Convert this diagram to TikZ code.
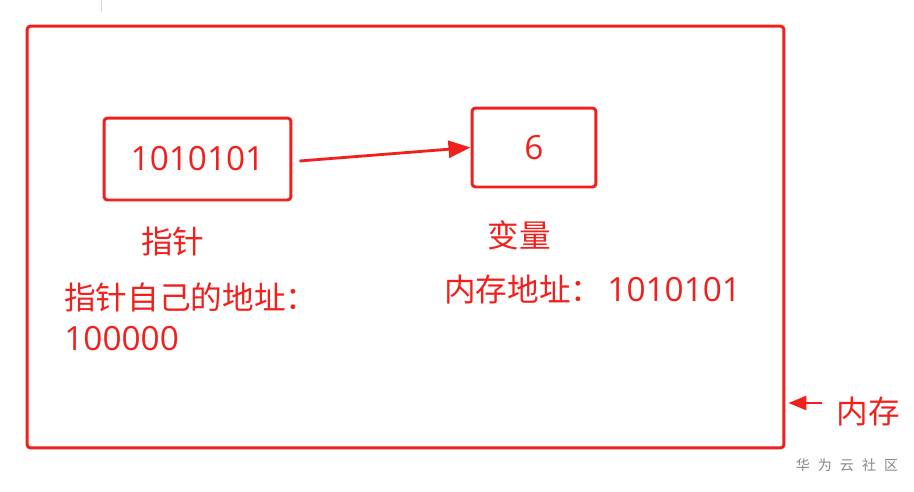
\documentclass[tikz,border=0pt]{standalone}
\usepackage{fontspec}
\setmainfont{Noto Sans CJK SC}
\newfontfamily\digitfont[Scale=1.055]{Open Sans}
\usetikzlibrary{arrows.meta,positioning,calc}
\definecolor{memred}{RGB}{240,32,28}
\definecolor{markgray}{RGB}{135,135,135}

\begin{document}
\begin{tikzpicture}[x=0.02cm,y=-0.02cm,
    box/.style={draw=memred,line width=1.7pt,rounded corners=2pt,inner sep=0pt},
    lbl/.style={text=memred,inner sep=0pt,font=\fontsize{18}{22}\selectfont},
    ptr/.style={-{Triangle[length=0.44cm,width=0.34cm]},draw=memred,fill=memred,line width=1.6pt}]
    \useasboundingbox (0,0) rectangle (914,491);
    \draw[gray!30,line width=0.5pt] (101,0) -- (101,12);
    % memory frame
    \node[box,minimum width=15.14cm,minimum height=8.44cm] (mem) at (405.5,237) {};
    % pointer and variable
    \node[box,lbl,draw=memred,minimum width=3.74cm,minimum height=1.64cm] (p) at (197.5,159) {\digitfont 1010101};
    \node[box,lbl,draw=memred,minimum width=2.48cm,minimum height=1.58cm] (v) at (534,147.5) {\digitfont 6};
    \draw[ptr] ([yshift=-0.04cm]p.east) ++(0.14cm,0) -- (v.west);
    % labels
    \node[lbl] (pname) at (173,241) {指针};
    \node[lbl,anchor=west] (paddr) at (64,297) {指针自己的地址：};
    \node[lbl,anchor=west] (pval) at (64,339) {\digitfont 100000};
    \node[lbl] (vname) at (519,235) {变量};
    \node[lbl,anchor=west] (vaddr) at (444,290) {内存地址：\hspace{0.1cm}{\digitfont 1010101}};
    % frame label
    \node[lbl] (memname) at (868,412) {内存};
    \coordinate (tail) at (822,403);
    \draw[ptr,-{Triangle[length=0.36cm,width=0.28cm]}] (tail) -- ($(mem.east |- tail)+(0.06cm,0)$);
    \node[text=markgray,font=\fontsize{8}{10}\selectfont,inner sep=0pt] (mark) at (847,465) {华\hspace{0.16cm}为\hspace{0.16cm}云\hspace{0.16cm}社\hspace{0.16cm}区};
\end{tikzpicture}
\end{document}
